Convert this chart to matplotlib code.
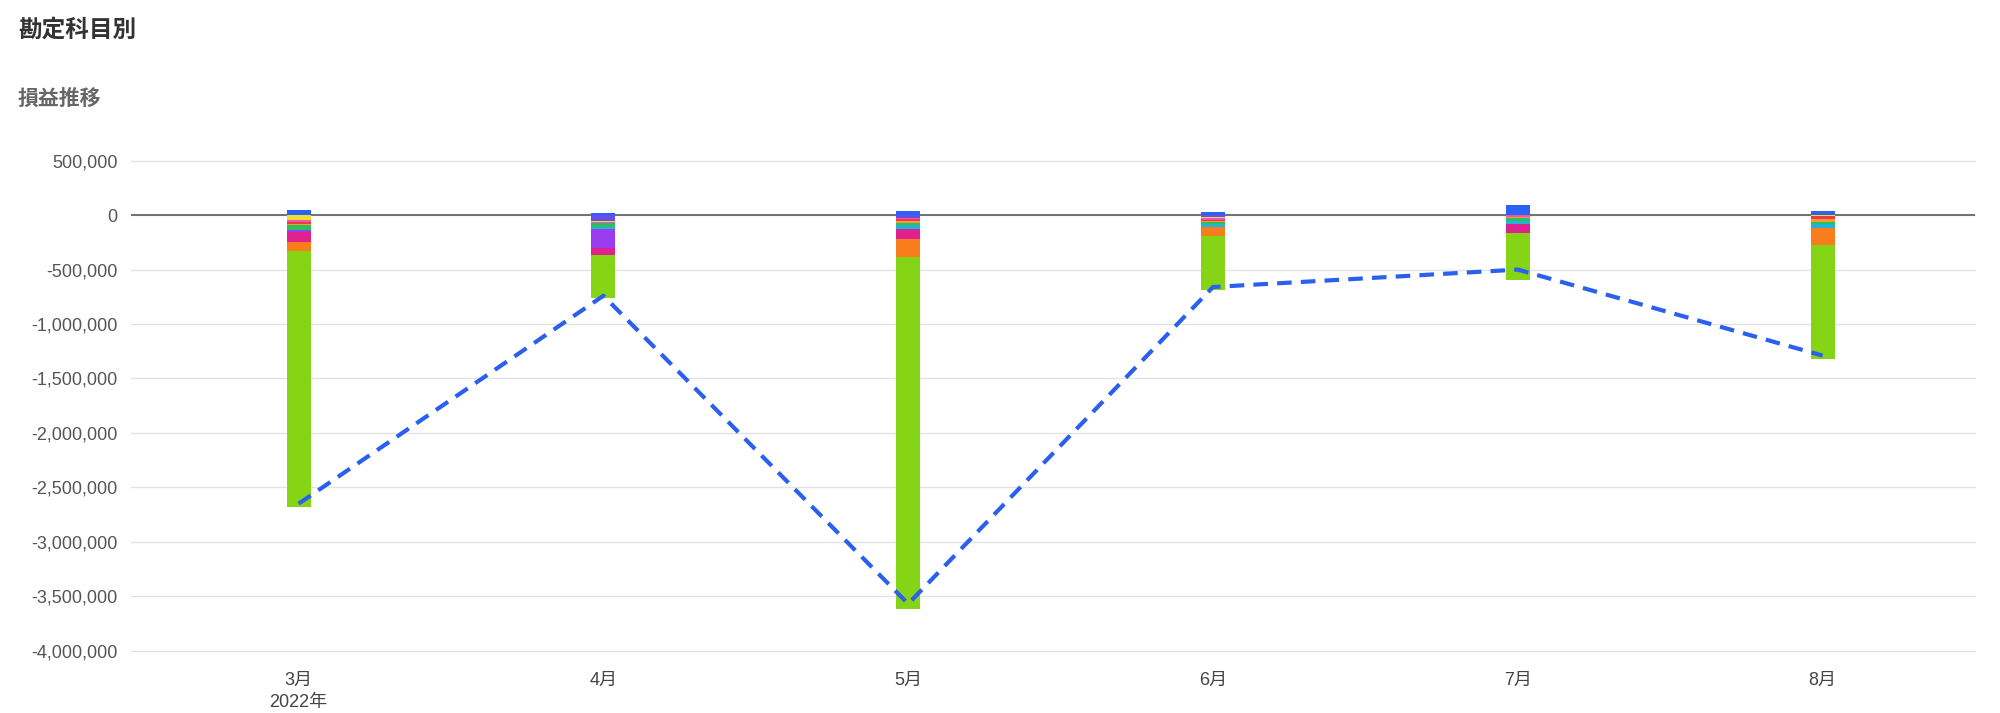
import matplotlib
matplotlib.use("Agg")
from matplotlib import pyplot as plt
from matplotlib.ticker import FuncFormatter
import numpy as np

plt.rcParams['font.family'] = ['Liberation Sans', 'Noto Sans CJK JP', 'DejaVu Sans']

months = ['3月', '4月', '5月', '6月', '7月', '8月']
year_label = '2022年'

# 勘定科目ごとの金額 (円) : 売上はプラス、費用はマイナス
sales = [45000, 18000, 37000, 28000, 92000, 37000]
kyuryo = [0, -50000, -25000, -20000, 0, 0]
tsushin = [-40000, -15000, 0, -8000, 0, -6000]
kokoku = [-25000, -10000, -10000, -18000, -15000, 0]
ryohi = [-15000, 0, -20000, -9000, 0, -28000]
shomohin = [-10000, 0, -21000, -10000, -12000, -25000]
suido = [-45000, -30000, -15000, -18000, -25000, -18000]
tesuryo = [0, -20000, -35000, -30000, -30000, -37000]
gaichu = [-20000, -181000, 0, 0, 0, 0]
chidai = [-92000, -61000, -95000, 0, -83000, 0]
settai = [-80000, 0, -160000, -77000, 0, -163000]
shiire = [-2355000, -396000, -3239000, -500000, -427000, -1046000]

# 損益推移 (折れ線)
profit = [-2650000, -740000, -3570000, -660000, -500000, -1290000]

expenses = [
    (kyuryo, '#6a4bf2'),
    (tsushin, '#f1df2c'),
    (kokoku, '#f052b8'),
    (ryohi, '#ee3b3b'),
    (shomohin, '#f99a3a'),
    (suido, '#27c25a'),
    (tesuryo, '#22b3d6'),
    (gaichu, '#9a3cf0'),
    (chidai, '#df2190'),
    (settai, '#fa7d1c'),
    (shiire, '#85d516'),
]

fig = plt.figure(figsize=(20, 7.13), dpi=100)
ax = fig.add_axes([0.0655, 0.0874, 0.922, 0.6872])

x = np.arange(len(months))
w = 0.079

ax.bar(x, sales, w, color='#2962f5', zorder=3)
bottom = np.zeros(len(months))
for vals, col in expenses:
    ax.bar(x, vals, w, bottom=bottom, color=col, zorder=3)
    bottom += np.array(vals)

ax.plot(x, profit, color='#2a5ff0', lw=3, linestyle=(0, (3.5, 2.2)), zorder=4)

ax.set_xlim(-0.55, 5.5)
ax.set_ylim(-4000000, 500000)
ax.set_yticks(np.arange(-4000000, 500001, 500000))
ax.yaxis.set_major_formatter(FuncFormatter(lambda v, p: f'{int(v):,}'))
ax.grid(axis='y', color='#e3e3e3', lw=1, zorder=0)
for gl in ax.get_ygridlines():
    gl.set_clip_on(False)
ax.axhline(0, color='#666666', lw=1.3, zorder=2)

ax.set_xticks(x)
labels = list(months)
labels[0] = months[0] + '\n' + year_label
ax.set_xticklabels(labels)
ax.get_xticklabels()[0].set_linespacing(1.4)

ax.tick_params(axis='y', length=0, pad=9.5, labelsize=13, labelcolor='#555555')
ax.tick_params(axis='x', length=0, pad=15, labelsize=13, labelcolor='#444444')
for s in ax.spines.values():
    s.set_visible(False)

fig.text(0.009, 0.959, '勘定科目別', fontsize=17, fontweight='bold', color='#333333',
         family=['Noto Sans CJK JP'], va='center')
fig.text(0.009, 0.862, '損益推移', fontsize=15, fontweight='bold', color='#666666',
         family=['Noto Sans CJK JP'], va='center')

plt.savefig('out.png', dpi=100)
